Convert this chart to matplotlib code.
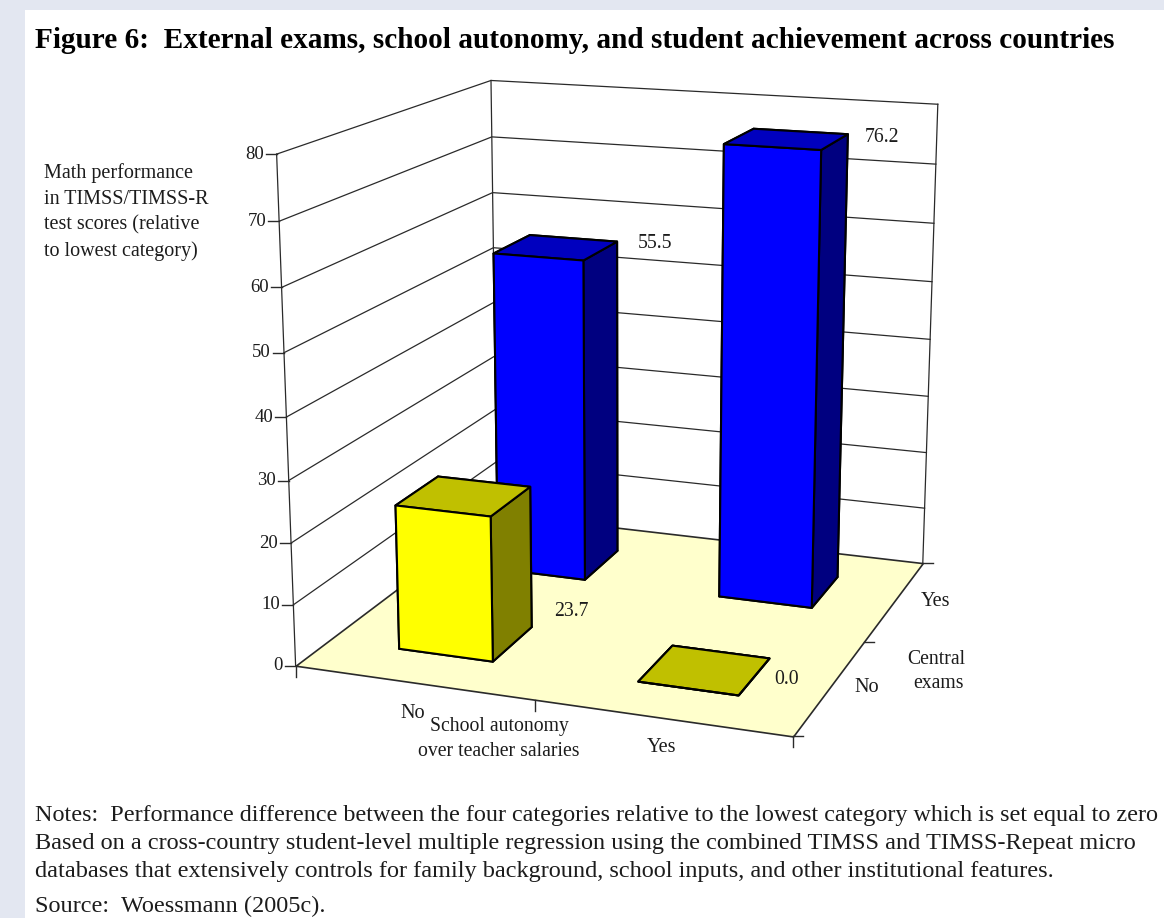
import matplotlib
matplotlib.use("Agg")
import numpy as np
import matplotlib.pyplot as plt
from matplotlib.lines import Line2D
from matplotlib.patches import Rectangle
from matplotlib.transforms import IdentityTransform
from mpl_toolkits.mplot3d import proj3d
from mpl_toolkits.mplot3d.art3d import Poly3DCollection

plt.rcParams['font.family'] = ['Liberation Serif', 'DejaVu Serif']

W, H = 1164, 918

# math score gap by (central exams, school autonomy over salaries)
autonomy_labels = ['No', 'Yes']
exams_labels = ['No', 'Yes']
scores_exams_no = [23.7, 0.0]
scores_exams_yes = [55.5, 76.2]
z_ticks = [0, 10, 20, 30, 40, 50, 60, 70, 80]

title = 'Figure 6:  External exams, school autonomy, and student achievement across countries'
ylabel_lines = ['Math performance', 'in TIMSS/TIMSS-R', 'test scores (relative', 'to lowest category)']
notes_lines = ['Notes:  Performance difference between the four categories relative to the lowest category which is set equal to zero',
               'Based on a cross-country student-level multiple regression using the combined TIMSS and TIMSS-Repeat micro',
               'databases that extensively controls for family background, school inputs, and other institutional features.']
source_line = 'Source:  Woessmann (2005c).'

bar_width = 0.4
text_color = '#1c1c1c'
line_color = '#2a2a2a'


def px(x, y):
    # pixel position from the top left corner -> figure fraction
    return x / W, 1 - y / H


def label(x, y, s, size=14.2, ha='center', **kw):
    fig.text(*px(x, y), s, fontsize=size, ha=ha, va='center', color=text_color, **kw)


fig = plt.figure(figsize=(W / 100, H / 100), dpi=100, facecolor='#e3e7f1')
fig.add_artist(Rectangle((25 / W, 0), 1 - 25 / W, 1 - 10 / H, transform=fig.transFigure,
                         facecolor='white', edgecolor='none', zorder=-1))

# square 3d axes, same camera as the spreadsheet chart
size = 841.6
ax = fig.add_axes([194.9 / W, (H - 808.1) / H, size / W, size / H], projection='3d')
ax.set_facecolor('none')
ax.set_axis_off()
ax.computed_zorder = False
ax.view_init(elev=15, azim=-70, roll=0)
ax.set_proj_type('persp', focal_length=0.5431)
ax.set_box_aspect((1, 1, 1))

# floor
floor = Poly3DCollection([[(0, 0, 0), (2, 0, 0), (2, 2, 0), (0, 2, 0)]], facecolor='#ffffcc',
                         edgecolor=line_color, linewidth=1.2, zorder=1)
ax.add_collection3d(floor)

# walls: gridlines on the left and back side plus the corner posts
for z in z_ticks[1:]:
    ax.plot([0, 0, 2], [0, 2, 2], [z, z, z], color=line_color, lw=0.9, zorder=2)
for x, y in [(0, 0), (0, 2), (2, 2)]:
    ax.plot([x, x], [y, y], [0, 80], color=line_color, lw=0.9, zorder=2)

# bars, back row first so the front row covers it
rows = [(1.5, scores_exams_yes, ('#0000ff', '#0000bf', '#000080')),
        (0.5, scores_exams_no, ('#ffff00', '#c0c000', '#808000'))]
z = 10
for y_mid, values, (front, top, side) in rows:
    for i, v in enumerate(values):
        z += 1
        ax.bar3d(i + 0.5 - bar_width / 2, y_mid - bar_width / 2, 0, bar_width, bar_width, v,
                 color=[top, top, front, front, side, side], shade=False,
                 edgecolor='black', linewidth=1.5, zorder=z)

ax.set_xlim(0, 2)
ax.set_ylim(0, 2)
ax.set_zlim(0, 80)
ax.apply_aspect()
M = ax.get_proj()


def screen(x, y, z):
    u, v, _ = proj3d.proj_transform(x, y, z, M)
    return ax.transData.transform((u, v))


def tick(x, y, z, dx, dy):
    sx, sy = screen(x, y, z)
    fig.add_artist(Line2D([sx, sx + dx], [sy, sy + dy], transform=IdentityTransform(),
                          color=line_color, lw=1.0))
    return sx + dx, sy + dy


# axis ticks
for z_val in z_ticks:
    sx, sy = tick(0, 0, z_val, -11, 0)
    fig.text(sx - 2, sy, str(z_val), transform=IdentityTransform(), fontsize=13.5,
             ha='right', va='center', color=text_color)
for x in [0, 1, 2]:
    tick(x, 0, 0, 0, -11)
for y in [0, 1, 2]:
    tick(2, y, 0, 10, 0)

# value labels
label_xy = [(571, 611), (787, 680), (655, 244), (882, 137)]
for (lx, ly), v in zip(label_xy, scores_exams_no + scores_exams_yes):
    label(lx, ly, '%.1f' % v)

# category labels and axis titles
label(413, 713, autonomy_labels[0], size=14.6)
label(662, 747, autonomy_labels[1], size=14.6)
label(867, 688, exams_labels[0], size=14.6)
label(936, 601, exams_labels[1], size=14.6)
label(499, 727, 'School autonomy')
label(499, 752, 'over teacher salaries')
label(936, 660, 'Central')
label(939, 684, 'exams')

for y, s in zip([173, 199, 225, 251], ylabel_lines):
    label(44, y, s, size=14.5, ha='left')

fig.text(*px(35, 41), title, fontsize=21.1, fontweight='bold', ha='left', va='center', color='black')
for y, s, fs in zip([815, 843, 871], notes_lines, [17.35, 17.5, 17.5]):
    label(35, y, s, size=fs, ha='left')
label(35, 906, source_line, size=17.5, ha='left')

fig.savefig('out.png', dpi=100, facecolor=fig.get_facecolor())
